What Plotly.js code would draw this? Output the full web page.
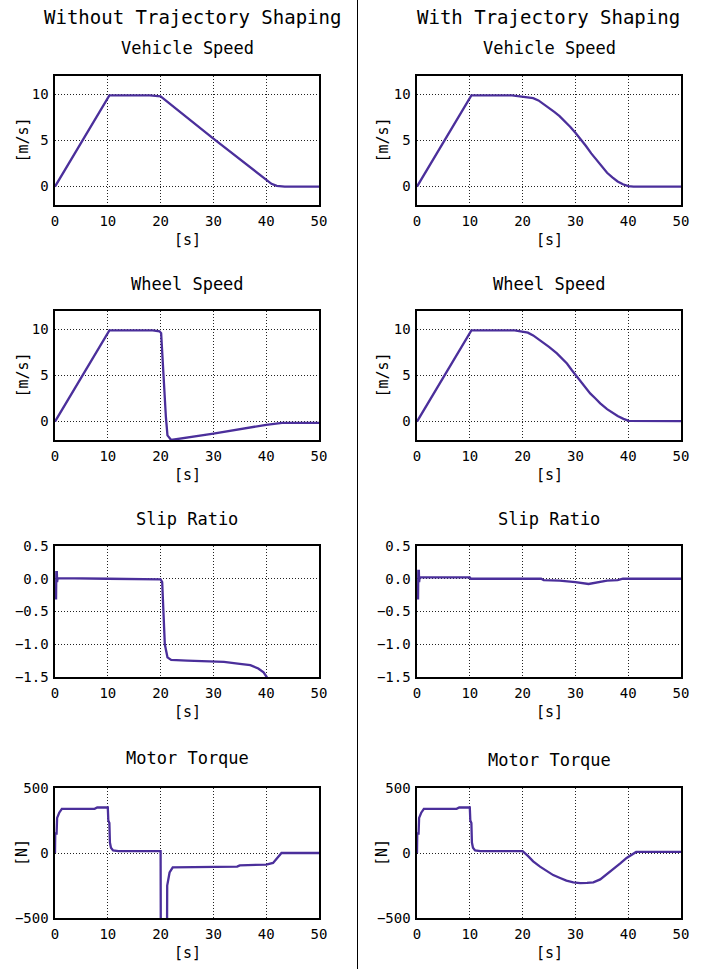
<!DOCTYPE html>
<html>
<head>
<meta charset="utf-8">
<script src="https://cdn.plot.ly/plotly-3.0.1.min.js"></script>
<style>html,body{margin:0;padding:0;background:#fff;}#chart{width:704px;height:969px;}</style>
</head>
<body>
<div id="chart"></div>
<script>
// ---------- data ----------
const columnTitles = ["Without Trajectory Shaping", "With Trajectory Shaping"];
const panelTitles = ["Vehicle Speed", "Wheel Speed", "Slip Ratio", "Motor Torque"];
const yUnits = ["[m/s]", "[m/s]", "", "[N]"];
const xUnit = "[s]";
const xTicks = [0, 10, 20, 30, 40, 50];
const speedTicks = [0, 5, 10];
const slipTicks = [0.5, 0.0, -0.5, -1.0, -1.5];
const torqueTicks = [-500, 0, 500];

// Without shaping
const vehSpeedT_A = [0, 10.3, 18, 20, 30, 40, 41, 42, 43.5, 50];
const vehSpeed_A  = [0, 9.9, 9.9, 9.8, 5.2, 0.7, 0.3, 0.08, 0, 0];

const wheelT_A = [0, 10.3, 18.5, 19.8, 20.1, 20.3, 20.5, 20.7, 21.0, 21.3, 22, 30, 40, 43, 50];
const wheel_A  = [0, 9.9, 9.9, 9.8, 9.6, 7.3, 5, 3, 0.5, -1.5, -2, -1.3, -0.35, -0.15, -0.15];

const slipT_A = [0, 0.2, 0.25, 0.35, 0.4, 0.5, 10, 20, 20.3, 20.4, 20.6, 20.8, 21.3, 22, 25, 30, 32, 35, 37, 38.5, 39.5, 40.1, 40.5];
const slip_A  = [-0.3, -0.3, 0.1, 0.1, -0.05, 0.01, 0.0, -0.01, -0.05, -0.25, -0.5, -1.0, -1.2, -1.24, -1.25, -1.26, -1.27, -1.3, -1.32, -1.37, -1.43, -1.5, -1.7];

const torqueT_A = [0, 0.05, 0.3, 0.4, 0.8, 1.3, 7.5, 8, 10, 10.1, 10.3, 10.4, 10.6, 11, 12, 20, 20.05, 21.2, 21.25, 21.5, 21.7, 22.3, 30, 34.5, 35, 40, 41.3, 42.3, 42.9, 50];
const torque_A  = [0, 150, 150, 270, 310, 340, 340, 350, 350, 250, 230, 80, 40, 20, 15, 15, -800, -800, -250, -200, -150, -110, -105, -105, -95, -89, -76, -25, 0, 0];

// With shaping
const vehSpeedT_B = [0, 10.3, 18, 20, 21, 22, 23, 24, 25, 26, 27, 28, 29, 30, 31, 32, 33, 34, 35, 36, 37, 38, 39, 40, 41, 50];
const vehSpeed_B  = [0, 9.9, 9.9, 9.78, 9.74, 9.6, 9.35, 8.95, 8.5, 8.1, 7.65, 7.1, 6.5, 5.85, 5.15, 4.4, 3.6, 2.9, 2.15, 1.5, 1.0, 0.55, 0.25, 0.05, 0, 0];

const wheelT_B = [0, 10.3, 18.5, 20.1, 21, 22, 23, 24.2, 25, 26.5, 27.5, 28.4, 29.3, 30.3, 31.5, 32.8, 33.8, 34.7, 36, 37.2, 38, 39.1, 40.1, 50];
const wheel_B  = [0, 9.9, 9.9, 9.78, 9.65, 9.35, 8.95, 8.45, 8.1, 7.4, 6.85, 6.3, 5.6, 4.86, 4.0, 3.06, 2.5, 1.98, 1.35, 0.9, 0.6, 0.29, 0.08, 0.05];

const slipT_B = [0, 0.2, 0.25, 0.35, 0.4, 0.5, 10, 10.2, 23.5, 24, 27, 30, 32.5, 34, 36, 38, 39, 50];
const slip_B  = [-0.3, -0.3, 0.12, 0.12, -0.05, 0.02, 0.02, 0.0, 0.0, -0.02, -0.03, -0.05, -0.08, -0.06, -0.03, -0.02, 0, 0];

const torqueT_B = [0, 0.05, 0.3, 0.4, 0.8, 1.3, 7.5, 8, 10, 10.1, 10.3, 10.4, 10.6, 11, 12, 20, 21, 22, 23.3, 24.6, 25.8, 27.1, 28.3, 29.6, 30.9, 32.2, 33.4, 34.7, 35.9, 37.2, 38.5, 39.7, 41, 41.5, 50];
const torque_B  = [0, 150, 150, 270, 310, 340, 340, 350, 350, 250, 230, 80, 40, 20, 15, 15, -22, -64, -105, -141, -170, -192, -212, -226, -231, -230, -226, -203, -165, -127, -80, -38, 0, 8, 8];

// ---------- layout ----------
const W = 704, H = 969;
const lineColor = '#4b2f9b';
const mono = 'DejaVu Sans Mono';
const colPx = [[55, 319], [417, 681]];
const rowPx = [[76, 205], [311, 440], [546, 677], [788, 918]];
const subTitleY = [[48, 48], [284, 284], [519, 519], [758, 760]];
const yLabelX = [22, 382];

const series = [
  [[vehSpeedT_A, vehSpeed_A], [vehSpeedT_B, vehSpeed_B]],
  [[wheelT_A, wheel_A], [wheelT_B, wheel_B]],
  [[slipT_A, slip_A], [slipT_B, slip_B]],
  [[torqueT_A, torque_A], [torqueT_B, torque_B]]
];
const yRanges = [[-2, 12], [-2, 12], [-1.5, 0.5], [-500, 500]];
const yTickSets = [speedTicks, speedTicks, slipTicks, torqueTicks];
const yFormats = ['', '', '.1f', ''];

const traces = [];
const layout = {
  width: W, height: H,
  margin: {l: 0, r: 0, t: 0, b: 0},
  paper_bgcolor: '#fff', plot_bgcolor: '#fff',
  showlegend: false,
  font: {family: mono, color: '#000'},
  annotations: [], shapes: []
};

let k = 0;
for (let r = 0; r < 4; r++) {
  for (let c = 0; c < 2; c++) {
    k++;
    const xs = k === 1 ? 'x' : 'x' + k;
    const ys = k === 1 ? 'y' : 'y' + k;
    const xa = k === 1 ? 'xaxis' : 'xaxis' + k;
    const ya = k === 1 ? 'yaxis' : 'yaxis' + k;
    traces.push({
      x: series[r][c][0], y: series[r][c][1], xaxis: xs, yaxis: ys,
      type: 'scatter', mode: 'lines',
      line: {color: lineColor, width: 2.3}, hoverinfo: 'skip'
    });
    const common = {
      showline: true, mirror: true, linecolor: '#000', linewidth: 1.6,
      showgrid: true, gridcolor: '#222', griddash: '1px,2px', gridwidth: 1,
      zeroline: false, ticks: '', fixedrange: true,
      tickfont: {family: mono, size: 14, color: '#000'}
    };
    layout[xa] = Object.assign({}, common, {
      domain: [colPx[c][0] / W, colPx[c][1] / W], anchor: ys,
      range: [0, 50], tickvals: xTicks, ticklabelstandoff: 3
    });
    layout[ya] = Object.assign({}, common, {
      domain: [1 - rowPx[r][1] / H, 1 - rowPx[r][0] / H], anchor: xs,
      range: yRanges[r], tickvals: yTickSets[r], tickformat: yFormats[r],
      ticklabelstandoff: 2
    });
    const cx = (colPx[c][0] + colPx[c][1]) / 2;
    layout.annotations.push({
      text: panelTitles[r], xref: 'paper', yref: 'paper',
      x: cx / W, y: 1 - subTitleY[r][c] / H, xanchor: 'center', yanchor: 'middle',
      showarrow: false, font: {family: mono, size: 17, color: '#000'}
    });
    layout.annotations.push({
      text: xUnit, xref: 'paper', yref: 'paper',
      x: cx / W, y: 1 - (rowPx[r][1] + 35) / H, xanchor: 'center', yanchor: 'middle',
      showarrow: false, font: {family: mono, size: 15, color: '#000'}
    });
    if (yUnits[r]) {
      layout.annotations.push({
        text: yUnits[r], xref: 'paper', yref: 'paper', textangle: -90,
        x: yLabelX[c] / W, y: 1 - ((rowPx[r][0] + rowPx[r][1]) / 2) / H,
        xanchor: 'center', yanchor: 'middle',
        showarrow: false, font: {family: mono, size: 15, color: '#000'}
      });
    }
  }
}

layout.annotations.push({
  text: columnTitles[0], xref: 'paper', yref: 'paper', x: 192 / W, y: 1 - 17 / H,
  xanchor: 'center', yanchor: 'middle', showarrow: false,
  font: {family: mono, size: 19, color: '#000'}
});
layout.annotations.push({
  text: columnTitles[1], xref: 'paper', yref: 'paper', x: 548 / W, y: 1 - 17 / H,
  xanchor: 'center', yanchor: 'middle', showarrow: false,
  font: {family: mono, size: 19, color: '#000'}
});
layout.shapes.push({
  type: 'line', xref: 'paper', yref: 'paper', x0: 357.5 / W, x1: 357.5 / W, y0: 0, y1: 1,
  line: {color: '#000', width: 1}
});

Plotly.newPlot('chart', traces, layout, {staticPlot: true, displayModeBar: false});
</script>
</body>
</html>
